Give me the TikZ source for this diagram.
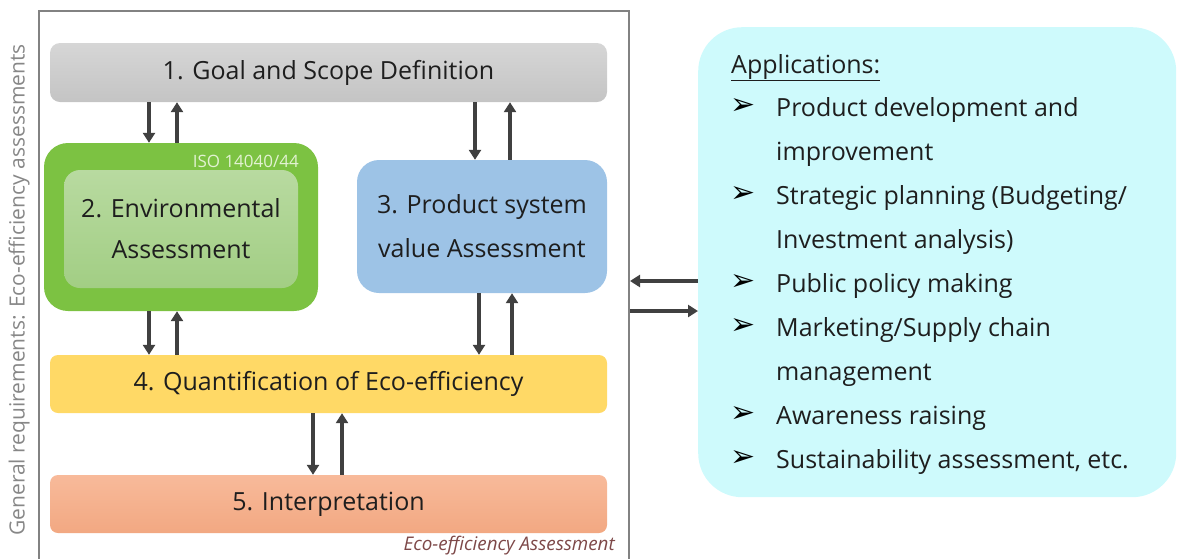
\documentclass[tikz,border=0pt]{standalone}
\usepackage{fontspec}
\setmainfont{Open Sans}
\newfontfamily\symfont{DejaVu Sans}
\usetikzlibrary{arrows.meta}

\definecolor{ink}{RGB}{30,30,30}
\definecolor{framegray}{RGB}{130,130,130}
\definecolor{arrowgray}{RGB}{64,64,64}
\definecolor{sidegray}{RGB}{135,135,135}
\definecolor{goaltop}{RGB}{214,214,214}
\definecolor{goalbot}{RGB}{196,196,196}
\definecolor{envgreen}{RGB}{124,194,66}
\definecolor{envtop}{RGB}{184,218,160}
\definecolor{envbot}{RGB}{162,206,132}
\definecolor{isogreen}{RGB}{226,242,210}
\definecolor{prodblue}{RGB}{157,195,230}
\definecolor{quantyellow}{RGB}{255,217,102}
\definecolor{interptop}{RGB}{248,186,154}
\definecolor{interpbot}{RGB}{242,168,130}
\definecolor{appcyan}{RGB}{206,250,252}
\definecolor{tagred}{RGB}{125,72,72}

\begin{document}
\begin{tikzpicture}[x=1pt,y=-1pt,
  stage/.style={rectangle, inner sep=0pt, align=center, text=ink,
    font=\fontsize{25}{30}\selectfont},
  arr/.style={draw=arrowgray, line width=3.4pt,
    -{Triangle[length=10pt,width=12pt]}},
  item/.style={anchor=base west, inner sep=0pt, text=ink,
    font=\fontsize{25}{30}\selectfont},
  bullet/.style={anchor=base west, inner sep=0pt, text=black,
    font=\symfont\fontsize{30}{32}\selectfont}]
\useasboundingbox (0,0) rectangle (1177,558);
\clip (0,0) rectangle (1177,558);

% outer frame of the assessment (open at the bottom)
\node[draw=framegray, line width=2pt, anchor=north west, inner sep=0pt,
  minimum width=590pt, minimum height=600pt] (frame) at (38,10) {};

% side caption
\node[rotate=90, text=sidegray, font=\fontsize{21}{26}\selectfont] (side)
  at (19,290) {General requirements: Eco-efficiency assessments};

% the five stages
\node[stage, minimum width=557pt, minimum height=59pt, rounded corners=10pt,
  top color=goaltop, bottom color=goalbot] (goal) at (328.5,72.5)
  {1. Goal and Scope Definition};

\node[rectangle, fill=envgreen, rounded corners=24pt, minimum width=274pt,
  minimum height=168pt, inner sep=0pt] (env) at (181,227) {};
\node[stage, rounded corners=16pt, minimum width=234pt, minimum height=118pt,
  top color=envtop, bottom color=envbot, font=\fontsize{25}{41}\selectfont]
  (envin) at (181,229) {2. Environmental\\Assessment};
\node[anchor=east, inner sep=0pt, text=isogreen,
  font=\fontsize{17}{20}\selectfont] (iso) at (299,161) {ISO 14040/44};

\node[stage, fill=prodblue, rounded corners=22pt, minimum width=250pt,
  minimum height=133pt, font=\fontsize{25}{44}\selectfont] (prod)
  at (482,226.5) {3. Product system\\value Assessment};

\node[stage, fill=quantyellow, rounded corners=8pt, minimum width=557pt,
  minimum height=58pt] (quant) at (328.5,384)
  {4. Quantification of Eco-efficiency};

\node[stage, top color=interptop, bottom color=interpbot, rounded corners=8pt,
  minimum width=557pt, minimum height=58pt] (interp) at (328.5,504)
  {5. Interpretation};

\node[anchor=base east, inner sep=0pt, text=tagred,
  font=\itshape\fontsize{18.8}{22}\selectfont] (tag) at (615,550)
  {Eco-efficiency Assessment};

% links between stages
\draw[arr] (goal.south -| 149,0) -- (env.north -| 149,0);
\draw[arr] (env.north -| 177,0) -- (goal.south -| 177,0);
\draw[arr] (goal.south -| 475,0) -- (prod.north -| 475,0);
\draw[arr] (prod.north -| 510,0) -- (goal.south -| 510,0);
\draw[arr] (env.south -| 149,0) -- (quant.north -| 149,0);
\draw[arr] (quant.north -| 177,0) -- (env.south -| 177,0);
\draw[arr] (prod.south -| 479,0) -- (quant.north -| 479,0);
\draw[arr] (quant.north -| 512,0) -- (prod.south -| 512,0);
\draw[arr] (quant.south -| 313,0) -- (interp.north -| 313,0);
\draw[arr] (interp.north -| 342,0) -- (quant.south -| 342,0);

% applications panel
\node[rectangle, fill=appcyan, rounded corners=44pt, minimum width=478pt,
  minimum height=470pt, inner sep=0pt, anchor=north west] (apps) at (698,27) {};

\draw[arr] (apps.west |- 0,281) -- (frame.east |- 0,281);
\draw[arr] (frame.east |- 0,311) -- (apps.west |- 0,311);

\node[item] (apphead) at (731,73) {\underline{Applications:}};

\node[item] (line1) at (776,116) {Product development and};
\node[item] (line2) at (776,160) {improvement};
\node[item] (line3) at (776,204) {Strategic planning (Budgeting/};
\node[item] (line4) at (776,248) {Investment analysis)};
\node[item] (line5) at (776,292) {Public policy making};
\node[item] (line6) at (776,336) {Marketing/Supply chain};
\node[item] (line7) at (776,380) {management};
\node[item] (line8) at (776,424) {Awareness raising};
\node[item] (line9) at (776,468) {Sustainability assessment, etc.};

\node[bullet] (mark1) at (730,114) {➢};
\node[bullet] (mark3) at (730,202) {➢};
\node[bullet] (mark5) at (730,290) {➢};
\node[bullet] (mark6) at (730,334) {➢};
\node[bullet] (mark8) at (730,422) {➢};
\node[bullet] (mark9) at (730,466) {➢};
\end{tikzpicture}
\end{document}
